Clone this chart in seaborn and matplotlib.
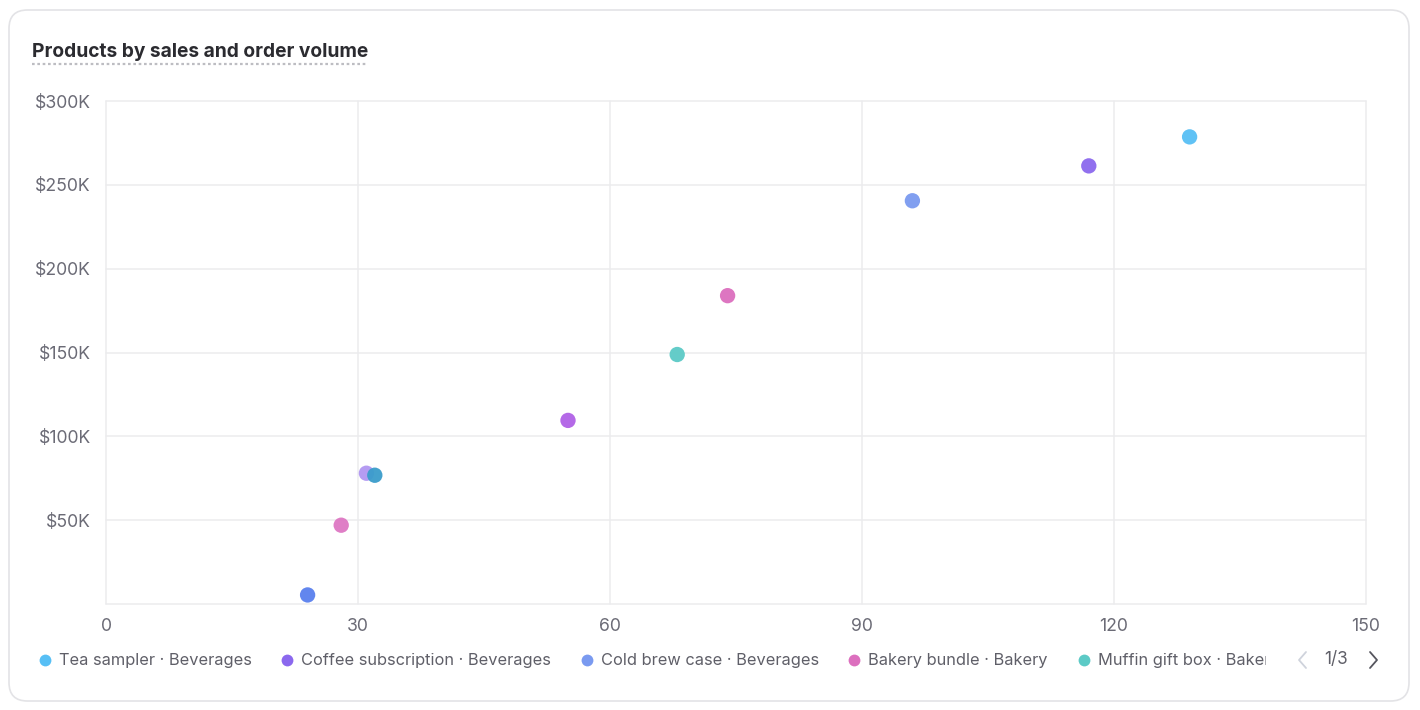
import matplotlib
matplotlib.use("Agg")
import matplotlib.pyplot as plt
import seaborn as sns
import pandas as pd
from matplotlib.patches import FancyBboxPatch, Rectangle
from matplotlib.lines import Line2D
from matplotlib.ticker import FuncFormatter

# ---- data ----
products = ["Tea sampler · Beverages", "Coffee subscription · Beverages",
            "Cold brew case · Beverages", "Bakery bundle · Bakery",
            "Muffin gift box · Bakery", "Item 6", "Item 7", "Item 8",
            "Item 9", "Item 10"]
orders = [129, 117, 96, 74, 68, 55, 31, 32, 28, 24]
sales = [278600, 261300, 240500, 183900, 148800, 109500, 78000, 76800, 47000, 5400]
colors = ["#57BFF5", "#8B68EE", "#7A9AF0", "#DC6FBE", "#5CCAC6",
          "#B061E6", "#B197F2", "#3A9CCB", "#DE77C3", "#5A80EE"]
legend_shown = products[:5]
x_ticks = [0, 30, 60, 90, 120, 150]
y_ticks = [0, 50000, 100000, 150000, 200000, 250000, 300000]

df = pd.DataFrame({"product": products, "orders": orders, "sales": sales})

sns.set_theme(style="white")
plt.rcParams["font.family"] = ["Inter", "DejaVu Sans"]

W, H = 1420, 710
fig = plt.figure(figsize=(W / 100, H / 100), dpi=100)
fig.patch.set_facecolor("white")

def fx(px):
    return px / W

def fy(py):
    return 1 - py / H

# card
card = FancyBboxPatch((fx(9), fy(701)), fx(1409) - fx(9), fy(10) - fy(701),
                      boxstyle="round,pad=0,rounding_size=0.013",
                      transform=fig.transFigure, facecolor="white",
                      edgecolor="#e3e3e6", linewidth=1.2, zorder=0,
                      mutation_aspect=W / H)
fig.add_artist(card)

ax = fig.add_axes([fx(106), fy(604), fx(1366) - fx(106), fy(101) - fy(604)])
ax.set_facecolor("none")

sns.scatterplot(data=df, x="orders", y="sales", hue="product",
                palette=dict(zip(products, colors)), s=122, linewidth=0,
                alpha=0.95, legend=False, ax=ax, zorder=3)

ax.set_xlim(0, 150)
ax.set_ylim(0, 300000)
ax.set_xticks(x_ticks)
ax.set_yticks(y_ticks)
ax.yaxis.set_major_formatter(FuncFormatter(lambda v, p: "" if v == 0 else f"${int(v/1000)}K"))
ax.set_xlabel("")
ax.set_ylabel("")
ax.grid(True, color="#ececee", linewidth=1.1)
for g in ax.get_xgridlines() + ax.get_ygridlines():
    g.set_clip_on(False)
for s in ax.spines.values():
    s.set_visible(False)
ax.tick_params(axis="both", length=0, labelsize=12.7, colors="#6b6b76")
ax.tick_params(axis="y", pad=11)
ax.tick_params(axis="x", pad=10)

# title
fig.text(fx(32), fy(52), "Products by sales and order volume", fontsize=13.8,
         fontweight="bold", color="#2b2b30", ha="left", va="center")
fig.add_artist(Line2D([fx(32), fx(368)], [fy(63.5), fy(63.5)], transform=fig.transFigure,
                      color="#bdbdc2", linewidth=1.6, linestyle=(0, (1.2, 1.2))))

# legend
leg_x = [45, 287, 587, 854, 1084]
clip_rect = Rectangle((0, 0), fx(1266), 1, transform=fig.transFigure)
for name, c, lx in zip(legend_shown, colors, leg_x):
    fig.add_artist(Line2D([fx(lx)], [fy(660)], transform=fig.transFigure, marker="o",
                          markersize=8.5, markerfacecolor=c, markeredgewidth=0,
                          linestyle="none"))
    t = fig.text(fx(lx + 14), fy(660), name, fontsize=11.8, color="#5f5f68",
                 ha="left", va="center")
    t.set_clip_path(clip_rect)

# pagination
fig.add_artist(Line2D([fx(1306), fx(1299), fx(1306)], [fy(652), fy(660), fy(668)],
                      transform=fig.transFigure, color="#cfd3dc", linewidth=1.3))
fig.text(fx(1336), fy(660), "1/3", fontsize=12.3, color="#5f5f68", ha="center", va="center")
fig.add_artist(Line2D([fx(1370), fx(1377), fx(1370)], [fy(652), fy(660), fy(668)],
                      transform=fig.transFigure, color="#55555e", linewidth=1.3))

fig.savefig("out.png", dpi=100, facecolor="white")
